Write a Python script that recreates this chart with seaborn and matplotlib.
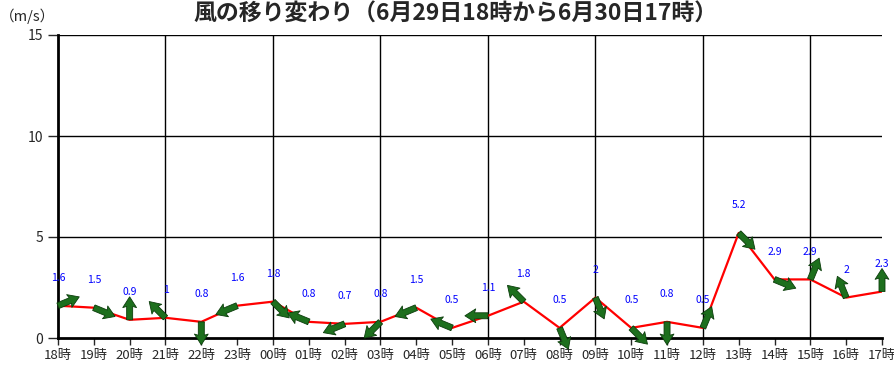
import numpy as np
import pandas as pd
import seaborn as sns
import matplotlib
matplotlib.use("Agg")
import matplotlib.pyplot as plt

# hourly observations, 6/29 18時 .. 6/30 17時
hours = ['18時', '19時', '20時', '21時', '22時', '23時', '00時', '01時', '02時', '03時', '04時', '05時',
         '06時', '07時', '08時', '09時', '10時', '11時', '12時', '13時', '14時', '15時', '16時', '17時']
speed = [1.6, 1.5, 0.9, 1, 0.8, 1.6, 1.8, 0.8, 0.7, 0.8, 1.5, 0.5,
         1.1, 1.8, 0.5, 2, 0.5, 0.8, 0.5, 5.2, 2.9, 2.9, 2, 2.3]
# wind direction (blowing from)
wind_from = ['WSW', 'WNW', 'S', 'SE', 'N', 'ENE', 'NW', 'ESE', 'ENE', 'NE', 'ENE', 'ESE',
             'E', 'SE', 'NNW', 'NNW', 'NW', 'N', 'SSW', 'NW', 'WNW', 'SSW', 'SSE', 'S']
speed_labels = ['1.6', '1.5', '0.9', '1', '0.8', '1.6', '1.8', '0.8', '0.7', '0.8', '1.5', '0.5',
                '1.1', '1.8', '0.5', '2', '0.5', '0.8', '0.5', '5.2', '2.9', '2.9', '2', '2.3']

compass = ['N', 'NNE', 'NE', 'ENE', 'E', 'ESE', 'SE', 'SSE',
           'S', 'SSW', 'SW', 'WSW', 'W', 'WNW', 'NW', 'NNW']

sns.set_style('white')
plt.rcParams['font.family'] = ['Noto Sans CJK JP', 'DejaVu Sans']

df = pd.DataFrame({'pos': np.arange(len(hours)), 'speed': speed})

fig = plt.figure(figsize=(8.95, 3.66), dpi=100)
ax = fig.add_axes([58 / 895, 1 - 338 / 366, (882 - 58) / 895, (338 - 35) / 366])

sns.lineplot(data=df, x='pos', y='speed', color='red', linewidth=1.6, ax=ax, zorder=3)

# arrows point where the wind blows to
to_deg = np.array([(compass.index(d) * 22.5 + 180) % 360 for d in wind_from])
theta = np.deg2rad(90 - to_deg)
L = 23
ax.quiver(df['pos'], df['speed'], L * np.cos(theta), L * np.sin(theta),
          angles='uv', units='dots', scale_units='dots', scale=1, pivot='tail',
          width=6, headwidth=2.3, headlength=1.8, headaxislength=1.6,
          facecolor='#1d6f1d', edgecolor='#0b3d0b', linewidth=0.6,
          zorder=4, clip_on=False)

for i, lab in enumerate(speed_labels):
    ax.annotate(lab, (i, speed[i]), xytext=(0, 20), textcoords='offset points',
                ha='center', va='center', color='#0000ff', fontsize=7.5)

ax.set_xlim(0, 23)
ax.set_ylim(0, 15)
ax.set_xticks(range(len(hours)))
ax.set_xticklabels(hours, fontsize=9.5)
ax.set_yticks([0, 5, 10, 15])
ax.tick_params(axis='y', labelsize=10, length=7, width=1, direction='out', left=True)
ax.tick_params(axis='x', length=5, width=1, direction='out', bottom=True, pad=3)
ax.set_xlabel('')
ax.set_ylabel('')

for y in [5, 10, 15]:
    ax.axhline(y, color='black', linewidth=1, zorder=1)
for x in range(3, 23, 3):
    ax.axvline(x, color='black', linewidth=1, zorder=1)

sns.despine(ax=ax, top=True, right=True)
ax.spines['left'].set_linewidth(2)
ax.spines['bottom'].set_linewidth(2)
ax.spines['left'].set_color('black')
ax.spines['bottom'].set_color('black')

fig.text(455 / 895, 1 - 14 / 366, '風の移り変わり（6月29日18時から6月30日17時）',
         ha='center', va='center', fontsize=16.5, fontweight='bold')
fig.text(0, 1 - 16 / 366, '（m/s）', ha='left', va='center', fontsize=10.5)

fig.savefig('out.png', dpi=100)
